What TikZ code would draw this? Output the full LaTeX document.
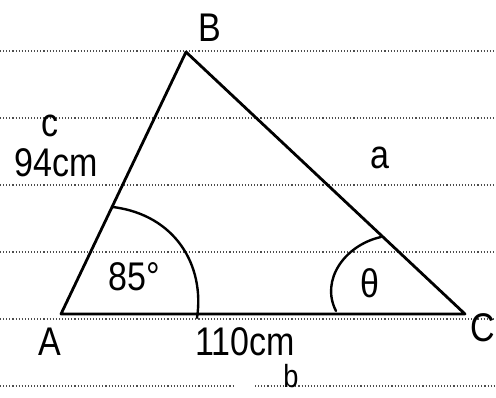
\documentclass[tikz,border=0pt]{standalone}
\usepackage{fontspec}
\setmainfont{Liberation Sans}
\newcommand\hwtext[1]{\scalebox{0.85}[1]{#1}}
\begin{document}
\begin{tikzpicture}[x=1pt,y=-1pt,
  ruled/.style={line width=1.1pt, black!70, dash pattern=on 1.1pt off 2pt},
  side/.style={line width=2.8pt, line join=round, line cap=round},
  anglearc/.style={line width=2.4pt, line cap=round},
  lbl/.style={inner sep=0pt, font=\fontsize{40}{42}\selectfont},
  small/.style={inner sep=0pt, font=\fontsize{32}{34}\selectfont}]
\useasboundingbox[fill=white] (0,0) rectangle (496,398);
% ruled lines
\foreach \yy in {51,118,185,252,319}{
  \draw[ruled] (0,\yy) -- (496,\yy);
}
\draw[ruled] (0,386) -- (234,386);
\draw[ruled] (255,386) -- (496,386);
% triangle
\coordinate (A) at (61,314);
\coordinate (B) at (186,52);
\coordinate (C) at (465,314);
\draw[side] (A) -- (B) -- (C) -- cycle;
% angle arcs
\coordinate (a1) at (113,207);
\coordinate (a2) at (197,318);
\draw[anglearc] (a1) .. controls (175,215) and (205,265) .. (a2);
\coordinate (c1) at (381,237);
\coordinate (c2) at (336,311);
\draw[anglearc] (c1) .. controls (345,245) and (320,280) .. (c2);
% labels
\node[lbl] (lB) at (210,28) {\hwtext{B}};
\node[lbl] (lA) at (50,342) {\hwtext{A}};
\node[lbl] (lC) at (483,328) {\hwtext{C}};
\node[lbl] (lc) at (50,126) {\hwtext{c}};
\node[lbl] (l94) at (56,163) {\hwtext{94cm}};
\node[lbl] (la) at (380,158) {\hwtext{a}};
\node[lbl] (l85) at (134,277) {\hwtext{85°}};
\node[lbl] (lth) at (370,283) {\hwtext{θ}};
\node[lbl] (l110) at (245,342) {\hwtext{110cm}};
\node[small] (lb) at (291,376) {\hwtext{b}};
\end{tikzpicture}
\end{document}
